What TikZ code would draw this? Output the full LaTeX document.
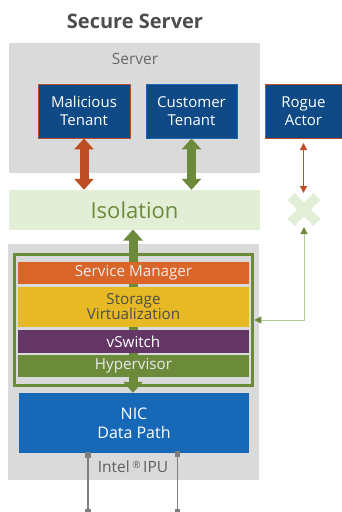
\documentclass[tikz,border=0pt]{standalone}
\usepackage{fontspec}
\setmainfont{Open Sans}
\usetikzlibrary{arrows.meta}

\definecolor{panelgray}{HTML}{DADADA}
\definecolor{tenantblue}{HTML}{0F4A86}
\definecolor{rust}{HTML}{BD4D25}
\definecolor{leaf}{HTML}{6B8A3A}
\definecolor{paleleaf}{HTML}{E3EED7}
\definecolor{softleaf}{HTML}{B3CB96}
\definecolor{svcorange}{HTML}{DA6529}
\definecolor{storyellow}{HTML}{E6B925}
\definecolor{vswpurple}{HTML}{633665}
\definecolor{nicblue}{HTML}{1769B8}
\definecolor{inkgray}{HTML}{4D4D4D}
\definecolor{portgray}{HTML}{7F7F7F}

\tikzset{
  panel/.style={fill=panelgray, draw=none, inner sep=0pt},
  tenant/.style={fill=tenantblue, draw=#1, line width=0.8pt, text=white,
    align=center, font=\fontsize{15}{18.5}\selectfont, inner sep=0pt},
  layer/.style={fill=#1, draw=none, minimum width=231, inner sep=0pt,
    align=center, font=\fontsize{15.2}{17}\selectfont},
  bigtwo/.style={draw=#1, line width=9pt,
    {Triangle[length=11pt,width=19pt,fill=#1,color=#1]}-{Triangle[length=11pt,width=19pt,fill=#1,color=#1]}},
  thintwo/.style={draw=#1, line width=1.3pt,
    {Triangle[length=7pt,width=7pt]}-{Triangle[length=7pt,width=7pt]}},
  portsq/.style={fill=portgray, draw=none, minimum size=5.5pt, inner sep=0pt},
}

\begin{document}
\begin{tikzpicture}[x=1pt, y=-1pt]
\useasboundingbox (0,0) rectangle (341,512);

% title
\node[text=inkgray, font=\bfseries\fontsize{20}{22}\selectfont] (title) at (135,21) {Secure Server};

% server enclosure with tenants
\node[panel, minimum width=251, minimum height=130] (server) at (134.5,108) {};
\node[text=inkgray!85, font=\fontsize{15.5}{17}\selectfont] (serverlbl) at (135,59) {Server};
\node[tenant=rust, minimum width=92, minimum height=54] (mal) at (84,111) {Malicious\\Tenant};
\node[tenant=nicblue, minimum width=91, minimum height=54] (cust) at (191.5,111) {Customer\\Tenant};
\node[tenant=rust, minimum width=77, minimum height=54] (rogue) at (303.5,111) {Rogue\\Actor};

% isolation band
\node[fill=paleleaf, minimum width=251, minimum height=40, inner sep=0pt,
  text=leaf, font=\fontsize{22}{24}\selectfont] (iso) at (134.5,210) {Isolation};

% blocked path marker
\coordinate (xmark) at (304,209.5);
\draw[paleleaf, line width=10pt] ([shift={(-13,-13)}]xmark) -- ([shift={(13,13)}]xmark);
\draw[paleleaf, line width=10pt] ([shift={(-13,13)}]xmark) -- ([shift={(13,-13)}]xmark);

% tenant links to isolation
\draw[bigtwo=rust] (mal.south) -- (mal.south |- iso.north);
\draw[bigtwo=leaf] (cust.south) -- (cust.south |- iso.north);
\coordinate (roguetip) at (303.5,143);
\coordinate (xtop) at (303.5,193);
\draw[thintwo=rust] (roguetip) -- (xtop);

% IPU enclosure
\node[panel, minimum width=251, minimum height=236] (ipu) at (133.5,362) {};
\node[draw=leaf, line width=3.5pt, fill=panelgray, minimum width=238, minimum height=131, inner sep=0pt] (stack) at (133.5,320) {};

% NIC
\node[fill=nicblue, minimum width=230, minimum height=60, inner sep=0pt, text=white,
  align=center, font=\fontsize{16}{19}\selectfont] (nic) at (134,423) {NIC\\Data Path};

% vertical data path through the stack
\coordinate (isofoot) at (133,229.5);
\draw[bigtwo=leaf] (isofoot) -- (isofoot |- nic.north);

% software layers
\node[layer=svcorange, minimum height=22, text=white!92!black] (svc) at (133.5,273) {Service Manager};
\node[layer=storyellow, minimum height=40, text=inkgray] (stor) at (133.5,307) {Storage\\[-2pt]Virtualization};
\node[layer=vswpurple, minimum height=23, text=white] (vsw) at (133.5,341.5) {vSwitch};
\node[layer=leaf, minimum height=22, text=white!92!black] (hyp) at (133.5,366) {Hypervisor};

\node[text=inkgray!90, font=\fontsize{15.5}{17}\selectfont] (ipulbl) at (133,467) {Intel\,\raisebox{4pt}{\fontsize{10}{10}\selectfont®}\,IPU};

% management link from the blocked path to the stack
\coordinate (xfoot) at (304,227);
\coordinate (bend) at (304,320);
\draw[softleaf, line width=1pt, {Triangle[length=7pt,width=7pt,color=leaf]}-{Triangle[length=7pt,width=7pt,color=leaf]}]
  (xfoot) -- (bend) -- (stack.east |- bend);

% physical ports
\node[portsq] (p1top) at (88,455) {};
\node[portsq] (p1bot) at (88,512) {};
\node[portsq] (p2top) at (177.5,454) {};
\node[portsq] (p2bot) at (177.5,512) {};
\draw[portgray, line width=1.5pt] (p1top) -- (p1bot);
\draw[portgray, line width=1.5pt] (p2top) -- (p2bot);
\end{tikzpicture}
\end{document}
